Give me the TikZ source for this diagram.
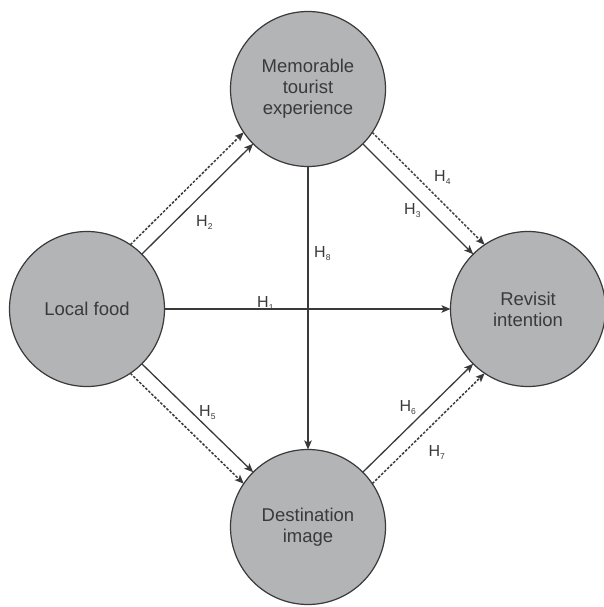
\documentclass[tikz,border=0pt]{standalone}
\usepackage{fontspec}
\setmainfont{Liberation Sans}
\usetikzlibrary{arrows.meta}
\definecolor{circfill}{HTML}{B3B4B6}
\definecolor{inkc}{HTML}{3A3A3A}
\newcommand{\hyp}[1]{H\raisebox{-3pt}{\fontsize{8.5}{8.5}\selectfont #1}}
\begin{document}
\begin{tikzpicture}[x=1pt,y=-1pt,
  construct/.style={circle,draw=inkc,fill=circfill,line width=1.2pt,minimum size=155pt,
    inner sep=0pt,outer sep=0pt,align=center,text=inkc,
    font=\fontsize{18.5}{21}\selectfont},
  solidarr/.style={draw=inkc,line width=1.3pt,-{Stealth[length=9pt,width=7.5pt,inset=2pt]}},
  dotarr/.style={draw=inkc,line width=1.5pt,dash pattern=on 2.6pt off 1.6pt,
    -{Stealth[length=9pt,width=7.5pt,inset=2pt]}},
  hlab/.style={anchor=base west,inner sep=0pt,text=inkc,font=\fontsize{16}{16}\selectfont}]
\useasboundingbox (0,0) rectangle (604,607);
\node[construct] (lf) at (87,309) {Local food};
\node[construct] (mte) at (308,89) {Memorable\\tourist\\experience};
\node[construct] (ri) at (528,309) {Revisit\\intention};
\node[construct] (di) at (308,527) {Destination\\image};
% H1 and H8
\draw[solidarr] (lf.east) -- (ri.west);
\draw[solidarr] (mte.south) -- (di.north);
% H2
\draw[solidarr] (lf.45) -- (mte.225);
\draw[dotarr] (lf.56) -- (mte.214);
% H3 / H4
\draw[solidarr] (mte.-45) -- (ri.135);
\draw[dotarr] (mte.-34) -- (ri.124);
% H5
\draw[solidarr] (lf.-45) -- (di.135);
\draw[dotarr] (lf.-56) -- (di.146);
% H6 / H7
\draw[solidarr] (di.45) -- (ri.-135);
\draw[dotarr] (di.34) -- (ri.-124);
% labels
\node[hlab] (h1) at (257,307) {\hyp{1}};
\node[hlab] (h2) at (196,226) {\hyp{2}};
\node[hlab] (h3) at (404,214.3) {\hyp{3}};
\node[hlab] (h4) at (434,181) {\hyp{4}};
\node[hlab] (h5) at (199,416) {\hyp{5}};
\node[hlab] (h6) at (399.3,411) {\hyp{6}};
\node[hlab] (h7) at (428.3,456) {\hyp{7}};
\node[hlab] (h8) at (314,257) {\hyp{8}};
\end{tikzpicture}
\end{document}
